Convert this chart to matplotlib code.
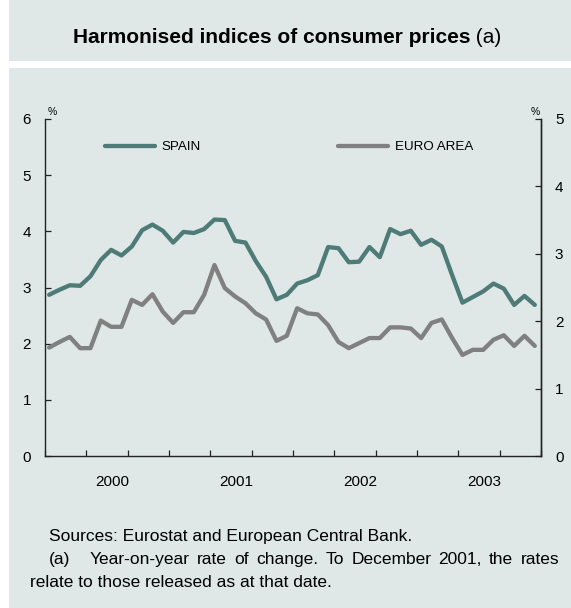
import matplotlib
matplotlib.use('Agg')
import matplotlib.pyplot as plt
from matplotlib.patches import Rectangle

plt.rcParams['font.family'] = ['Liberation Sans', 'DejaVu Sans']

# monthly, Jan 2000 - Dec 2003
spain = [2.87, 2.96, 3.04, 3.03, 3.20, 3.49, 3.67, 3.57, 3.73, 4.02, 4.12, 4.01,
         3.80, 3.99, 3.97, 4.04, 4.21, 4.20, 3.83, 3.80, 3.47, 3.19, 2.79, 2.87,
         3.07, 3.13, 3.22, 3.72, 3.70, 3.45, 3.46, 3.72, 3.54, 4.04, 3.95, 4.01,
         3.76, 3.85, 3.73, 3.22, 2.73, 2.83, 2.93, 3.07, 2.98, 2.69, 2.85, 2.69]
euro_area = [1.93, 2.03, 2.12, 1.92, 1.92, 2.41, 2.30, 2.30, 2.78, 2.69, 2.88, 2.57,
             2.37, 2.56, 2.56, 2.87, 3.40, 2.99, 2.84, 2.72, 2.54, 2.43, 2.05, 2.14,
             2.63, 2.54, 2.52, 2.33, 2.03, 1.92, 2.01, 2.10, 2.10, 2.29, 2.29, 2.27,
             2.10, 2.37, 2.43, 2.10, 1.80, 1.89, 1.89, 2.07, 2.15, 1.96, 2.14, 1.96]
years = ['2000', '2001', '2002', '2003']

BG = '#dfe8e6'
SPAIN_C = '#4e7b78'
EURO_C = '#808080'
AX_C = '#222222'

fig = plt.figure(figsize=(5.71, 6.08), dpi=100, facecolor='white')
W, H = 571.0, 608.0

# background panels
fig.patches.append(Rectangle((9 / W, 1 - 61 / H), 1 - 9 / W, 61 / H,
                             transform=fig.transFigure, facecolor=BG, edgecolor='none', zorder=-5))
fig.patches.append(Rectangle((9 / W, 0), 1 - 9 / W, 1 - 68 / H,
                             transform=fig.transFigure, facecolor=BG, edgecolor='none', zorder=-5))

t1 = fig.text(73 / W, 1 - 43 / H, 'Harmonised indices of consumer prices', fontsize=15,
              fontweight='bold', va='baseline', ha='left')
fig.canvas.draw()
renderer = fig.canvas.get_renderer()
bb = t1.get_window_extent(renderer)
fig.text(bb.x1 / W, 1 - 43 / H, ' (a)', fontsize=15, va='baseline', ha='left')

ax = fig.add_axes([45 / W, 1 - 456 / H, 496 / W, 337 / H])
ax.set_zorder(2)
ax.set_facecolor('none')
x = [i + 0.4 for i in range(len(spain))]
ax.plot(x, spain, color=SPAIN_C, lw=3.1, label='SPAIN', solid_capstyle='round')
ax.plot(x, euro_area, color=EURO_C, lw=3.1, label='EURO AREA', solid_capstyle='round')

ax.set_xlim(0, 48)
ax.set_ylim(0, 6)
ax.set_yticks(range(0, 7))
ax.set_xticks(range(0, 49, 4))
ax.set_xticklabels([])
ax.set_xticks([6.5 + 12 * i for i in range(len(years))], years, minor=True)
ax.tick_params(axis='x', which='major', direction='in', length=4, width=0.9, color=AX_C)
ax.tick_params(axis='x', which='minor', length=0, pad=14, labelsize=11)
ax.tick_params(axis='y', direction='in', length=4, width=0.9, color=AX_C, pad=10, labelsize=11)
for s in ['left', 'bottom', 'right']:
    ax.spines[s].set_color(AX_C)
    ax.spines[s].set_linewidth(1.0)
ax.spines['top'].set_visible(False)

ax2 = ax.twinx()
ax2.set_zorder(1)
ax2.set_ylim(0, 5)
ax2.set_yticks(range(0, 6))
ax2.tick_params(axis='y', direction='in', length=4, width=0.9, color=AX_C, pad=10, labelsize=11)
for s in ['left', 'bottom', 'top']:
    ax2.spines[s].set_visible(False)
ax2.spines['right'].set_color(AX_C)
ax2.spines['right'].set_linewidth(1.0)

fig.text(52 / W, 1 - 112 / H, '%', fontsize=7.5, ha='center', va='center')
fig.text(535 / W, 1 - 112 / H, '%', fontsize=7.5, ha='center', va='center')

ax.legend(loc='center left', bbox_to_anchor=((105 - 45) / 496, (456 - 147) / 337),
          ncol=2, frameon=False, fontsize=9.6, handlelength=3.75, handletextpad=0.5,
          columnspacing=10.3, borderpad=0, borderaxespad=0)

fig.text(49 / W, 1 - 541 / H, 'Sources: Eurostat and European Central Bank.', fontsize=12.5,
         va='baseline')
fig.text(49 / W, 1 - 564 / H, '(a)', fontsize=12.5, va='baseline')

# justified line between x=90 and x=559
words = 'Year-on-year rate of change. To December 2001, the rates'.split()
wt = [fig.text(0, 1 - 564 / H, w, fontsize=12.5, va='baseline') for w in words]
widths = [t.get_window_extent(renderer).width for t in wt]
gap = (559 - 90 - sum(widths)) / (len(words) - 1)
pos = 90.0
for t, w in zip(wt, widths):
    t.set_x(pos / W)
    pos += w + gap

fig.text(30 / W, 1 - 587 / H, 'relate to those released as at that date.', fontsize=12.5,
         va='baseline')

fig.savefig('out.png', dpi=100, facecolor='white')
